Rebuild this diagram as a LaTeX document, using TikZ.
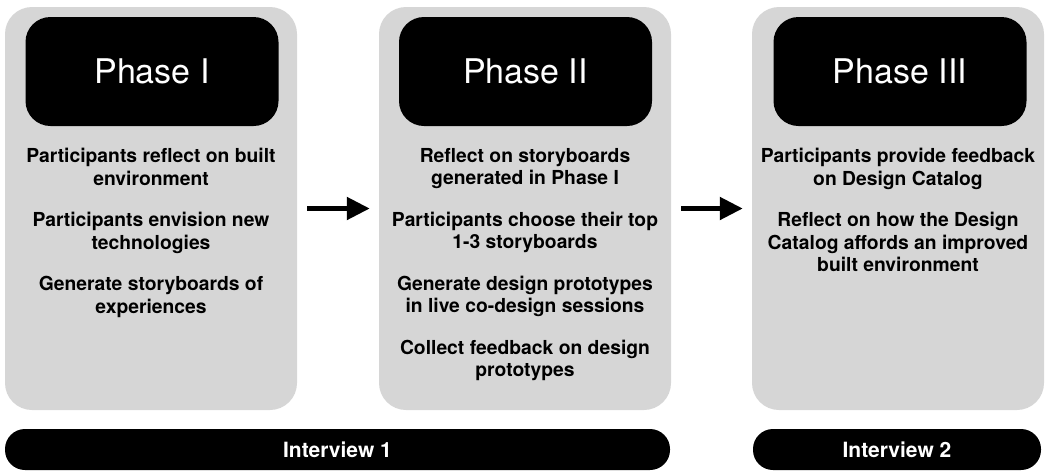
\documentclass[tikz,border=0pt]{standalone}
\usepackage{fontspec}
\setmainfont{TeX Gyre Heros}
\usetikzlibrary{arrows.meta}
\definecolor{fondgris}{RGB}{214,214,214}

\begin{document}
\begin{tikzpicture}[x=1pt,y=-1pt]
      \tikzstyle{phase}=[rounded corners=27pt, fill=fondgris, minimum width=292pt, minimum height=403pt, inner sep=0pt]
      \tikzstyle{titre}=[rounded corners=25pt, fill=black, text=white, minimum width=253pt, minimum height=109pt, inner sep=0pt, font=\fontsize{34}{40}\selectfont]
      \tikzstyle{texte}=[anchor=north, align=center, inner sep=0pt, font=\bfseries\fontsize{19.3}{22.5}\selectfont]
      \tikzstyle{entretien}=[rounded corners=20pt, fill=black, text=white, minimum height=41pt, inner sep=0pt, font=\bfseries\fontsize{21}{24}\selectfont]
      \tikzstyle{fleche}=[-{Triangle[length=23pt,width=22pt]}, line width=5pt, shorten <=10pt, shorten >=9pt]

      \useasboundingbox (0,0) rectangle (1045,472);

      \node[phase] (Ph1) at (151,208.5) {};
      \node[phase] (Ph2) at (525,208.5) {};
      \node[phase] (Ph3) at (898,208.5) {};

      \node[titre] (Tit1) at (152,71.5) {Phase I};
      \node[titre] (Tit2) at (525.5,71.5) {Phase II};
      \node[titre] (Tit3) at (900,71.5) {Phase III};

      \node[texte] (Txt1) at (151,148) {Participants reflect on built\\ environment\\[19pt] Participants envision new\\ technologies\\[19pt] Generate storyboards of\\ experiences};
      \node[texte] (Txt2) at (525,148) {Reflect on storyboards\\ generated in Phase I\\[19pt] Participants choose their top\\ 1-3 storyboards\\[19pt] Generate design prototypes\\ in live co-design sessions\\[19pt] Collect feedback on design\\ prototypes};
      \node[texte] (Txt3) at (898,148) {Participants provide feedback\\ on Design Catalog\\[19pt] Reflect on how the Design\\ Catalog affords an improved\\ built environment};

      \node[entretien, minimum width=665pt] (Int1) at (337.5,449.5) {Interview 1};
      \node[entretien, minimum width=288pt] (Int2) at (897,449.5) {Interview 2};

      \draw[fleche] (Ph1)--(Ph2);
      \draw[fleche] (Ph2)--(Ph3);

\end{tikzpicture}
\end{document}
